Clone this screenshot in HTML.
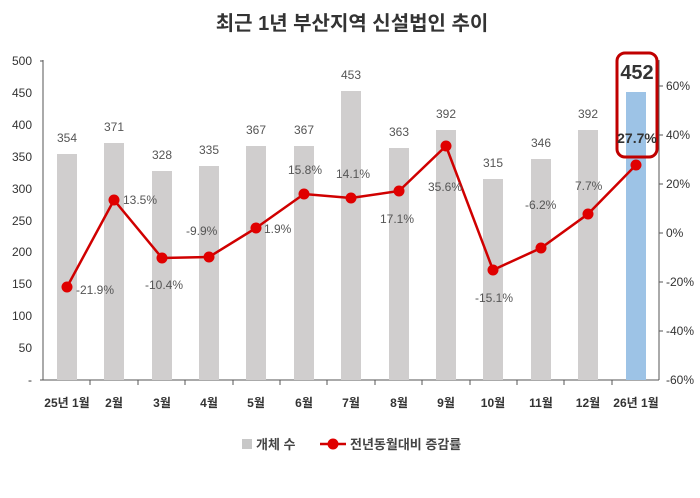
<!DOCTYPE html>
<html><head><meta charset="utf-8"><style>
body{margin:0;background:#fff}
svg text{font-family:"Liberation Sans","Noto Sans CJK KR",sans-serif}
</style></head><body>
<svg width="700" height="493" viewBox="0 0 700 493" xmlns="http://www.w3.org/2000/svg">
<text x="352" y="30" text-anchor="middle" font-size="20" font-weight="bold" fill="#333">최근 1년 부산지역 신설법인 추이</text>
<g font-size="12" fill="#333" text-anchor="end">
<text x="32" y="65">500</text><text x="32" y="97">450</text><text x="32" y="129">400</text><text x="32" y="161">350</text><text x="32" y="193">300</text><text x="32" y="225">250</text><text x="32" y="256">200</text><text x="32" y="288">150</text><text x="32" y="320">100</text><text x="32" y="352">50</text><text x="32" y="384">-</text>
</g>
<g font-size="12" fill="#333">
<text x="666" y="90">60%</text><text x="666" y="139">40%</text><text x="666" y="188">20%</text><text x="666" y="237">0%</text><text x="666" y="286">-20%</text><text x="666" y="335">-40%</text><text x="666" y="384">-60%</text>
</g>
<line x1="43" y1="60" x2="43" y2="380" stroke="#555"/>
<line x1="659" y1="60" x2="659" y2="380" stroke="#555"/>
<line x1="43" y1="380" x2="659" y2="380" stroke="#555"/>
<g stroke="#555">
<line x1="40" y1="61" x2="43" y2="61"/><line x1="40" y1="380" x2="43" y2="380"/>
<line x1="659" y1="86" x2="663" y2="86"/><line x1="659" y1="135" x2="663" y2="135"/><line x1="659" y1="184" x2="663" y2="184"/><line x1="659" y1="233" x2="663" y2="233"/><line x1="659" y1="282" x2="663" y2="282"/><line x1="659" y1="331" x2="663" y2="331"/>
<line x1="90" y1="380" x2="90" y2="385"/><line x1="138" y1="380" x2="138" y2="385"/><line x1="185" y1="380" x2="185" y2="385"/><line x1="233" y1="380" x2="233" y2="385"/><line x1="280" y1="380" x2="280" y2="385"/><line x1="327" y1="380" x2="327" y2="385"/><line x1="375" y1="380" x2="375" y2="385"/><line x1="422" y1="380" x2="422" y2="385"/><line x1="470" y1="380" x2="470" y2="385"/><line x1="517" y1="380" x2="517" y2="385"/><line x1="564" y1="380" x2="564" y2="385"/><line x1="612" y1="380" x2="612" y2="385"/>
</g>
<g fill="#d0cece">
<rect x="57" y="154" width="20" height="226"/>
<rect x="104" y="143" width="20" height="237"/>
<rect x="152" y="171" width="20" height="209"/>
<rect x="199" y="166" width="20" height="214"/>
<rect x="246" y="146" width="20" height="234"/>
<rect x="294" y="146" width="20" height="234"/>
<rect x="341" y="91" width="20" height="289"/>
<rect x="389" y="148" width="20" height="232"/>
<rect x="436" y="130" width="20" height="250"/>
<rect x="483" y="179" width="20" height="201"/>
<rect x="531" y="159" width="20" height="221"/>
<rect x="578" y="130" width="20" height="250"/>
</g>
<rect x="626" y="92" width="20" height="288" fill="#9dc3e6"/>
<g font-size="12" fill="#555" text-anchor="middle">
<text x="67" y="142">354</text><text x="114" y="131">371</text><text x="162" y="159">328</text><text x="209" y="154">335</text><text x="256" y="134">367</text><text x="304" y="134">367</text><text x="351" y="79">453</text><text x="399" y="136">363</text><text x="446" y="118">392</text><text x="493" y="167">315</text><text x="541" y="147">346</text><text x="588" y="118">392</text>
</g>
<text x="637" y="79" text-anchor="middle" font-size="20" font-weight="bold" fill="#333">452</text>
<rect x="617" y="53" width="40" height="104" rx="8" fill="none" stroke="#c00000" stroke-width="3"/>
<polyline fill="none" stroke="#d00000" stroke-width="2.5" points="67,287 114,200 162,258 209,257 256,228 304,194 351,198 399,191 446,146 493,270 541,248 588,214 636,165"/>
<g fill="#e00000">
<circle cx="67" cy="287" r="5.5"/><circle cx="114" cy="200" r="5.5"/><circle cx="162" cy="258" r="5.5"/><circle cx="209" cy="257" r="5.5"/><circle cx="256" cy="228" r="5.5"/><circle cx="304" cy="194" r="5.5"/><circle cx="351" cy="198" r="5.5"/><circle cx="399" cy="191" r="5.5"/><circle cx="446" cy="146" r="5.5"/><circle cx="493" cy="270" r="5.5"/><circle cx="541" cy="248" r="5.5"/><circle cx="588" cy="214" r="5.5"/><circle cx="636" cy="165" r="5.5"/>
</g>
<g font-size="12" fill="#555">
<text x="76" y="294">-21.9%</text><text x="123" y="204">13.5%</text><text x="145" y="289">-10.4%</text><text x="186" y="235">-9.9%</text><text x="264" y="233">1.9%</text><text x="288" y="174">15.8%</text><text x="336" y="178">14.1%</text><text x="380" y="223">17.1%</text><text x="428" y="191">35.6%</text><text x="475" y="302">-15.1%</text><text x="525" y="209">-6.2%</text><text x="575" y="190">7.7%</text>
</g>
<text x="637" y="143" text-anchor="middle" font-size="14" font-weight="bold" fill="#333">27.7%</text>
<g font-size="12" font-weight="bold" fill="#333" text-anchor="middle">
<text x="67" y="407">25년 1월</text><text x="114" y="407">2월</text><text x="162" y="407">3월</text><text x="209" y="407">4월</text><text x="256" y="407">5월</text><text x="304" y="407">6월</text><text x="351" y="407">7월</text><text x="399" y="407">8월</text><text x="446" y="407">9월</text><text x="493" y="407">10월</text><text x="541" y="407">11월</text><text x="588" y="407">12월</text><text x="636" y="407">26년 1월</text>
</g>
<rect x="242" y="439" width="10" height="10" fill="#c8c8c8"/>
<text x="256" y="449" font-size="13" font-weight="bold" fill="#444">개체 수</text>
<line x1="320" y1="444" x2="346" y2="444" stroke="#d00000" stroke-width="2.5"/>
<circle cx="333" cy="444" r="5.5" fill="#e00000"/>
<text x="350" y="449" font-size="13" font-weight="bold" fill="#444">전년동월대비 증감률</text>
</svg>
</body></html>
